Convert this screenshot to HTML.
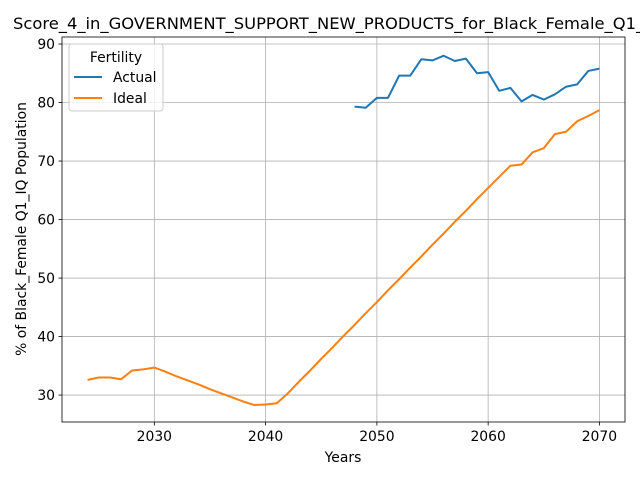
<!DOCTYPE html>
<html><head><meta charset="utf-8"><style>
body{margin:0;background:#fff;overflow:hidden;}
svg{display:block;font-family:"DejaVu Sans","Liberation Sans",sans-serif;}
</style></head><body>
<svg id="chart" width="640" height="480" viewBox="0 0 640 480">
<text x="13" y="29" font-size="16.35" fill="#000">Score_4_in_GOVERNMENT_SUPPORT_NEW_PRODUCTS_for_Black_Female_Q1_IQ</text>
<g id="grid"></g>
<g id="ticks"></g>
<g id="series"></g>
<rect x="62" y="37" width="563" height="385" fill="none" stroke="#000" stroke-width="0.8"/>
<text x="343" y="462" font-size="13.9" text-anchor="middle">Years</text>
<text transform="translate(26,229) rotate(-90)" font-size="13.9" text-anchor="middle">% of Black_Female Q1_IQ Population</text>
<g>
<rect x="69" y="44" width="94" height="67" rx="3" fill="#fff" fill-opacity="0.8" stroke="#ccc"/>
<text x="116" y="62" font-size="13.9" text-anchor="middle">Fertility</text>
<line x1="74" y1="77" x2="102" y2="77" stroke="#1f77b4" stroke-width="2"/>
<text x="113" y="82" font-size="13.9">Actual</text>
<line x1="74" y1="98" x2="102" y2="98" stroke="#ff7f0e" stroke-width="2"/>
<text x="113" y="103" font-size="13.9">Ideal</text>
</g>
</svg>
<script>
const actualYears=[2048,2049,2050,2051,2052,2053,2054,2055,2056,2057,2058,2059,2060,2061,2062,2063,2064,2065,2066,2067,2068,2069,2070];
const actualValues=[79.3,79.1,80.8,80.8,84.6,84.6,87.4,87.2,88.0,87.1,87.5,85.0,85.2,82.0,82.5,80.2,81.3,80.5,81.4,82.7,83.1,85.4,85.8];
const idealYears=[2024,2025,2026,2027,2028,2029,2030,2031,2032,2033,2034,2035,2036,2037,2038,2039,2040,2041,2042,2043,2044,2045,2046,2047,2048,2049,2050,2051,2052,2053,2054,2055,2056,2057,2058,2059,2060,2061,2062,2063,2064,2065,2066,2067,2068,2069,2070];
const idealValues=[32.6,33.0,33.0,32.7,34.2,34.4,34.7,34.0,33.2,32.5,31.8,31.0,30.3,29.6,28.9,28.3,28.4,28.6,30.3,32.3,34.2,36.2,38.1,40.1,42.0,44.0,45.9,47.9,49.8,51.8,53.7,55.7,57.6,59.6,61.5,63.5,65.4,67.3,69.2,69.4,71.5,72.2,74.6,75.0,76.8,77.7,78.7];
const xTicks=[2030,2040,2050,2060,2070];
const yTicks=[30,40,50,60,70,80,90];
const NS="http://www.w3.org/2000/svg";
const X0=62,X1=625,Y0=422,Y1=37,XMIN=2021.7,XMAX=2072.3,YMIN=25.4,YMAX=91.2;
function sx(v){return X0+(v-XMIN)/(XMAX-XMIN)*(X1-X0);}
function sy(v){return Y0-(v-YMIN)/(YMAX-YMIN)*(Y0-Y1);}
function mk(tag,attrs,parent){const e=document.createElementNS(NS,tag);for(const k in attrs)e.setAttribute(k,attrs[k]);parent.appendChild(e);return e;}
const grid=document.getElementById('grid'),ticks=document.getElementById('ticks'),series=document.getElementById('series');
xTicks.forEach(t=>{const x=sx(t);
 const g=mk('line',{x1:x,x2:x,y1:Y1,y2:Y0,stroke:'#b0b0b0','stroke-width':0.8},grid);
 
 
 mk('line',{x1:x,x2:x,y1:Y0,y2:Y0+3.5,stroke:'#000','stroke-width':0.8},ticks);
 const tx=mk('text',{x:x,y:Y0+19,'font-size':13.9,'text-anchor':'middle'},ticks);tx.textContent=t;
 
 
});
yTicks.forEach(t=>{const y=sy(t);
 const g=mk('line',{x1:X0,x2:X1,y1:y,y2:y,stroke:'#b0b0b0','stroke-width':0.8},grid);
 
 
 mk('line',{x1:X0-3.5,x2:X0,y1:y,y2:y,stroke:'#000','stroke-width':0.8},ticks);
 const tx=mk('text',{x:X0-7,y:y+5,'font-size':13.9,'text-anchor':'end'},ticks);tx.textContent=t;
 
 
});
function line(xs,ys,color,name){
 const p=mk('polyline',{points:xs.map((x,i)=>sx(x)+','+sy(ys[i])).join(' '),fill:'none',stroke:color,'stroke-width':2,'stroke-linejoin':'round'},series);
 
 
}
line(idealYears,idealValues,'#ff7f0e','ideal-line');
line(actualYears,actualValues,'#1f77b4','actual-line');
</script>
</body></html>
